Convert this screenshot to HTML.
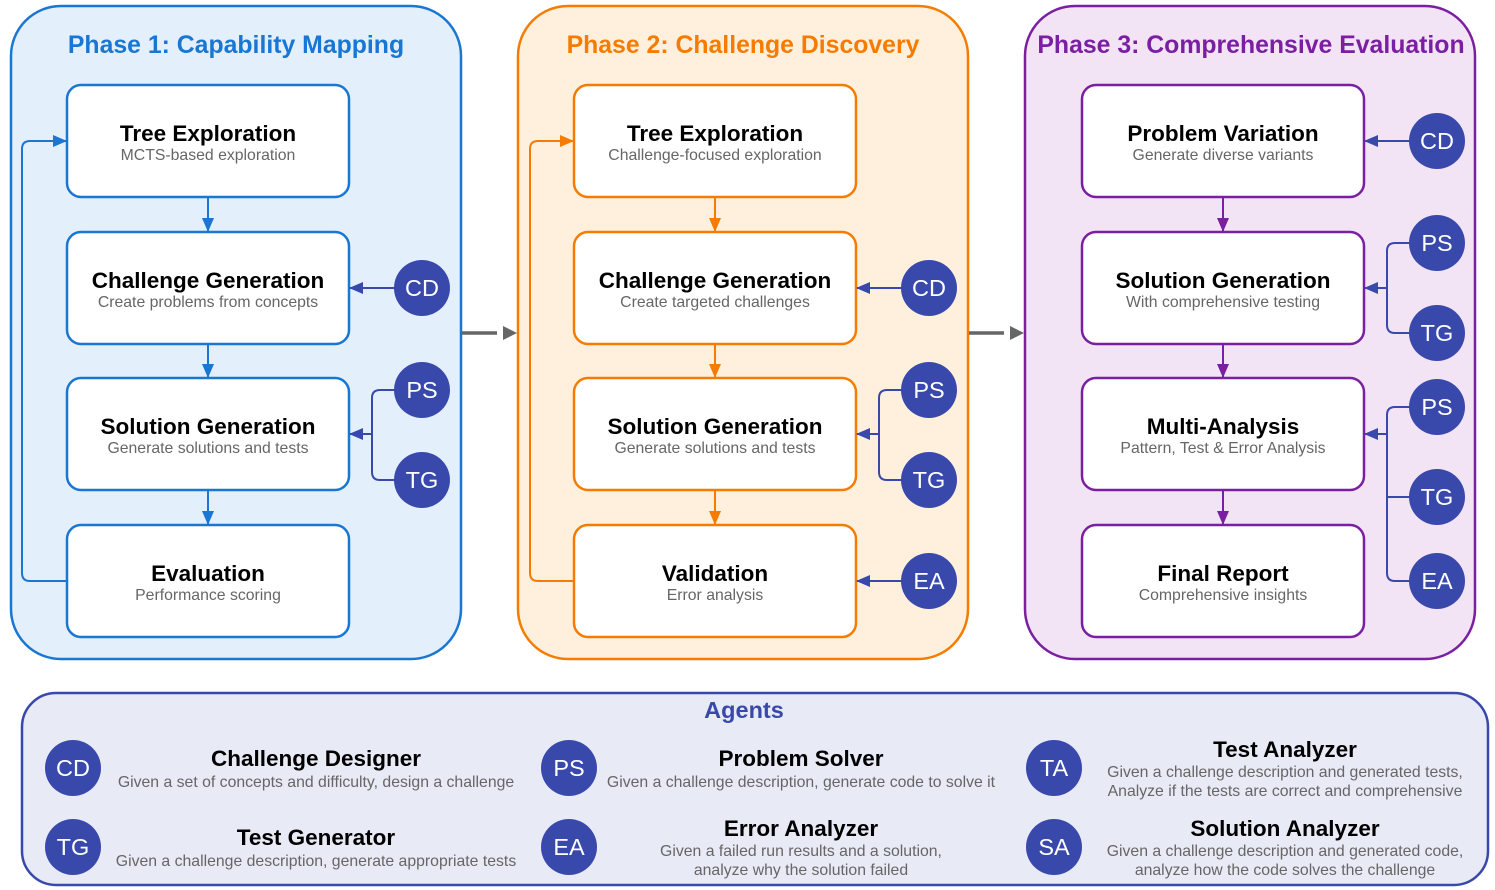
<!DOCTYPE html>
<html><head><meta charset="utf-8"><style>
html,body{margin:0;padding:0;background:#fff;}
svg{display:block;font-family:"Liberation Sans",Arial,sans-serif;}
.t{font-weight:bold;font-size:22.5px;fill:#000;text-anchor:middle;}
.s{font-size:15.8px;fill:#666;text-anchor:middle;}
.c{fill:#3949ab;}
.cl{fill:#fff;font-size:23.5px;text-anchor:middle;}
.ph{font-weight:bold;font-size:24.8px;text-anchor:middle;}
.at{font-weight:bold;font-size:22.5px;fill:#000;text-anchor:middle;}
.ad{font-size:15.8px;fill:#666;text-anchor:middle;}
</style></head><body>
<svg width="1495" height="890" viewBox="0 0 1495 890">
<defs>
<marker id="mb" markerUnits="userSpaceOnUse" markerWidth="14" markerHeight="12" refX="13" refY="6" orient="auto"><path d="M0,0 L14,6 L0,12 z" fill="#1976d2"/></marker>
<marker id="mo" markerUnits="userSpaceOnUse" markerWidth="14" markerHeight="12" refX="13" refY="6" orient="auto"><path d="M0,0 L14,6 L0,12 z" fill="#f57c00"/></marker>
<marker id="mp" markerUnits="userSpaceOnUse" markerWidth="14" markerHeight="12" refX="13" refY="6" orient="auto"><path d="M0,0 L14,6 L0,12 z" fill="#7b1fa2"/></marker>
<marker id="mi" markerUnits="userSpaceOnUse" markerWidth="14" markerHeight="12" refX="13" refY="6" orient="auto"><path d="M0,0 L14,6 L0,12 z" fill="#3949ab"/></marker>
</defs>

<rect x="11" y="6" width="450" height="653" rx="50" fill="#e3f0fc" stroke="#1976d2" stroke-width="2.5"/>
<rect x="518" y="6" width="450" height="653" rx="50" fill="#fff0dd" stroke="#f57c00" stroke-width="2.5"/>
<rect x="1025" y="6" width="450" height="653" rx="50" fill="#f3e4f5" stroke="#7b1fa2" stroke-width="2.5"/>
<text class="ph" x="236" y="53" fill="#1976d2">Phase 1: Capability Mapping</text>
<text class="ph" x="743" y="53" fill="#f57c00">Phase 2: Challenge Discovery</text>
<text class="ph" x="1251" y="53" fill="#7b1fa2">Phase 3: Comprehensive Evaluation</text>

<line x1="462" y1="333" x2="497" y2="333" stroke="#666" stroke-width="3.5"/>
<path d="M503,326 L517,333 L503,340 z" fill="#666"/>
<line x1="969" y1="333" x2="1004" y2="333" stroke="#666" stroke-width="3.5"/>
<path d="M1010,326 L1024,333 L1010,340 z" fill="#666"/>

<g stroke="#1976d2" stroke-width="2.5" fill="#fff">
<rect x="67" y="85" width="282" height="112" rx="14"/>
<rect x="67" y="232" width="282" height="112" rx="14"/>
<rect x="67" y="378" width="282" height="112" rx="14"/>
<rect x="67" y="525" width="282" height="112" rx="14"/>
</g>
<g stroke="#1976d2" stroke-width="2" fill="none">
<line x1="208" y1="197" x2="208" y2="231" marker-end="url(#mb)"/>
<line x1="208" y1="344" x2="208" y2="377" marker-end="url(#mb)"/>
<line x1="208" y1="490" x2="208" y2="524" marker-end="url(#mb)"/>
<path d="M67,581 H30 Q22,581 22,573 V149 Q22,141 30,141 H66" marker-end="url(#mb)"/>
</g>
<text class="t" x="208" y="141">Tree Exploration</text><text class="s" x="208" y="160">MCTS-based exploration</text>
<text class="t" x="208" y="288">Challenge Generation</text><text class="s" x="208" y="307">Create problems from concepts</text>
<text class="t" x="208" y="434">Solution Generation</text><text class="s" x="208" y="453">Generate solutions and tests</text>
<text class="t" x="208" y="581">Evaluation</text><text class="s" x="208" y="600">Performance scoring</text>
<g stroke="#3949ab" stroke-width="2" fill="none">
<line x1="395" y1="288" x2="350" y2="288" marker-end="url(#mi)"/>
<path d="M395,390 H380 Q372,390 372,398 V472 Q372,480 380,480 H395"/>
<line x1="372" y1="434" x2="350" y2="434" marker-end="url(#mi)"/>
</g>
<circle class="c" cx="422" cy="288" r="28"/><text class="cl" x="422" y="296">CD</text>
<circle class="c" cx="422" cy="390" r="28"/><text class="cl" x="422" y="398">PS</text>
<circle class="c" cx="422" cy="480" r="28"/><text class="cl" x="422" y="488">TG</text>

<g stroke="#f57c00" stroke-width="2.5" fill="#fff">
<rect x="574" y="85" width="282" height="112" rx="14"/>
<rect x="574" y="232" width="282" height="112" rx="14"/>
<rect x="574" y="378" width="282" height="112" rx="14"/>
<rect x="574" y="525" width="282" height="112" rx="14"/>
</g>
<g stroke="#f57c00" stroke-width="2" fill="none">
<line x1="715" y1="197" x2="715" y2="231" marker-end="url(#mo)"/>
<line x1="715" y1="344" x2="715" y2="377" marker-end="url(#mo)"/>
<line x1="715" y1="490" x2="715" y2="524" marker-end="url(#mo)"/>
<path d="M574,581 H538 Q530,581 530,573 V149 Q530,141 538,141 H573" marker-end="url(#mo)"/>
</g>
<text class="t" x="715" y="141">Tree Exploration</text><text class="s" x="715" y="160">Challenge-focused exploration</text>
<text class="t" x="715" y="288">Challenge Generation</text><text class="s" x="715" y="307">Create targeted challenges</text>
<text class="t" x="715" y="434">Solution Generation</text><text class="s" x="715" y="453">Generate solutions and tests</text>
<text class="t" x="715" y="581">Validation</text><text class="s" x="715" y="600">Error analysis</text>
<g stroke="#3949ab" stroke-width="2" fill="none">
<line x1="902" y1="288" x2="857" y2="288" marker-end="url(#mi)"/>
<path d="M902,390 H887 Q879,390 879,398 V472 Q879,480 887,480 H902"/>
<line x1="879" y1="434" x2="857" y2="434" marker-end="url(#mi)"/>
<line x1="902" y1="581" x2="857" y2="581" marker-end="url(#mi)"/>
</g>
<circle class="c" cx="929" cy="288" r="28"/><text class="cl" x="929" y="296">CD</text>
<circle class="c" cx="929" cy="390" r="28"/><text class="cl" x="929" y="398">PS</text>
<circle class="c" cx="929" cy="480" r="28"/><text class="cl" x="929" y="488">TG</text>
<circle class="c" cx="929" cy="581" r="28"/><text class="cl" x="929" y="589">EA</text>

<g stroke="#7b1fa2" stroke-width="2.5" fill="#fff">
<rect x="1082" y="85" width="282" height="112" rx="14"/>
<rect x="1082" y="232" width="282" height="112" rx="14"/>
<rect x="1082" y="378" width="282" height="112" rx="14"/>
<rect x="1082" y="525" width="282" height="112" rx="14"/>
</g>
<g stroke="#7b1fa2" stroke-width="2" fill="none">
<line x1="1223" y1="197" x2="1223" y2="231" marker-end="url(#mp)"/>
<line x1="1223" y1="344" x2="1223" y2="377" marker-end="url(#mp)"/>
<line x1="1223" y1="490" x2="1223" y2="524" marker-end="url(#mp)"/>
</g>
<text class="t" x="1223" y="141">Problem Variation</text><text class="s" x="1223" y="160">Generate diverse variants</text>
<text class="t" x="1223" y="288">Solution Generation</text><text class="s" x="1223" y="307">With comprehensive testing</text>
<text class="t" x="1223" y="434">Multi-Analysis</text><text class="s" x="1223" y="453">Pattern, Test &amp; Error Analysis</text>
<text class="t" x="1223" y="581">Final Report</text><text class="s" x="1223" y="600">Comprehensive insights</text>
<g stroke="#3949ab" stroke-width="2" fill="none">
<line x1="1410" y1="141" x2="1365" y2="141" marker-end="url(#mi)"/>
<path d="M1410,243 H1395 Q1387,243 1387,251 V325 Q1387,333 1395,333 H1410"/>
<line x1="1387" y1="288" x2="1365" y2="288" marker-end="url(#mi)"/>
<path d="M1410,407 H1395 Q1387,407 1387,415 V573 Q1387,581 1395,581 H1410"/>
<line x1="1387" y1="497" x2="1410" y2="497"/>
<line x1="1387" y1="434" x2="1365" y2="434" marker-end="url(#mi)"/>
</g>
<circle class="c" cx="1437" cy="141" r="28"/><text class="cl" x="1437" y="149">CD</text>
<circle class="c" cx="1437" cy="243" r="28"/><text class="cl" x="1437" y="251">PS</text>
<circle class="c" cx="1437" cy="333" r="28"/><text class="cl" x="1437" y="341">TG</text>
<circle class="c" cx="1437" cy="407" r="28"/><text class="cl" x="1437" y="415">PS</text>
<circle class="c" cx="1437" cy="497" r="28"/><text class="cl" x="1437" y="505">TG</text>
<circle class="c" cx="1437" cy="581" r="28"/><text class="cl" x="1437" y="589">EA</text>

<rect x="22" y="693" width="1466" height="192" rx="34" fill="#e8eaf6" stroke="#3949ab" stroke-width="2.5"/>
<text x="744" y="718" font-weight="bold" font-size="23.5" fill="#3949ab" text-anchor="middle">Agents</text>

<circle class="c" cx="73" cy="768" r="28"/><text class="cl" x="73" y="776">CD</text>
<text class="at" x="316" y="766">Challenge Designer</text>
<text class="ad" x="316" y="787">Given a set of concepts and difficulty, design a challenge</text>
<circle class="c" cx="73" cy="847" r="28"/><text class="cl" x="73" y="855">TG</text>
<text class="at" x="316" y="845">Test Generator</text>
<text class="ad" x="316" y="866">Given a challenge description, generate appropriate tests</text>

<circle class="c" cx="569" cy="768" r="28"/><text class="cl" x="569" y="776">PS</text>
<text class="at" x="801" y="766">Problem Solver</text>
<text class="ad" x="801" y="787">Given a challenge description, generate code to solve it</text>
<circle class="c" cx="569" cy="847" r="28"/><text class="cl" x="569" y="855">EA</text>
<text class="at" x="801" y="836">Error Analyzer</text>
<text class="ad" x="801" y="856">Given a failed run results and a solution,</text>
<text class="ad" x="801" y="875">analyze why the solution failed</text>

<circle class="c" cx="1054" cy="768" r="28"/><text class="cl" x="1054" y="776">TA</text>
<text class="at" x="1285" y="757">Test Analyzer</text>
<text class="ad" x="1285" y="777">Given a challenge description and generated tests,</text>
<text class="ad" x="1285" y="796">Analyze if the tests are correct and comprehensive</text>
<circle class="c" cx="1054" cy="847" r="28"/><text class="cl" x="1054" y="855">SA</text>
<text class="at" x="1285" y="836">Solution Analyzer</text>
<text class="ad" x="1285" y="856">Given a challenge description and generated code,</text>
<text class="ad" x="1285" y="875">analyze how the code solves the challenge</text>
</svg>
</body></html>
